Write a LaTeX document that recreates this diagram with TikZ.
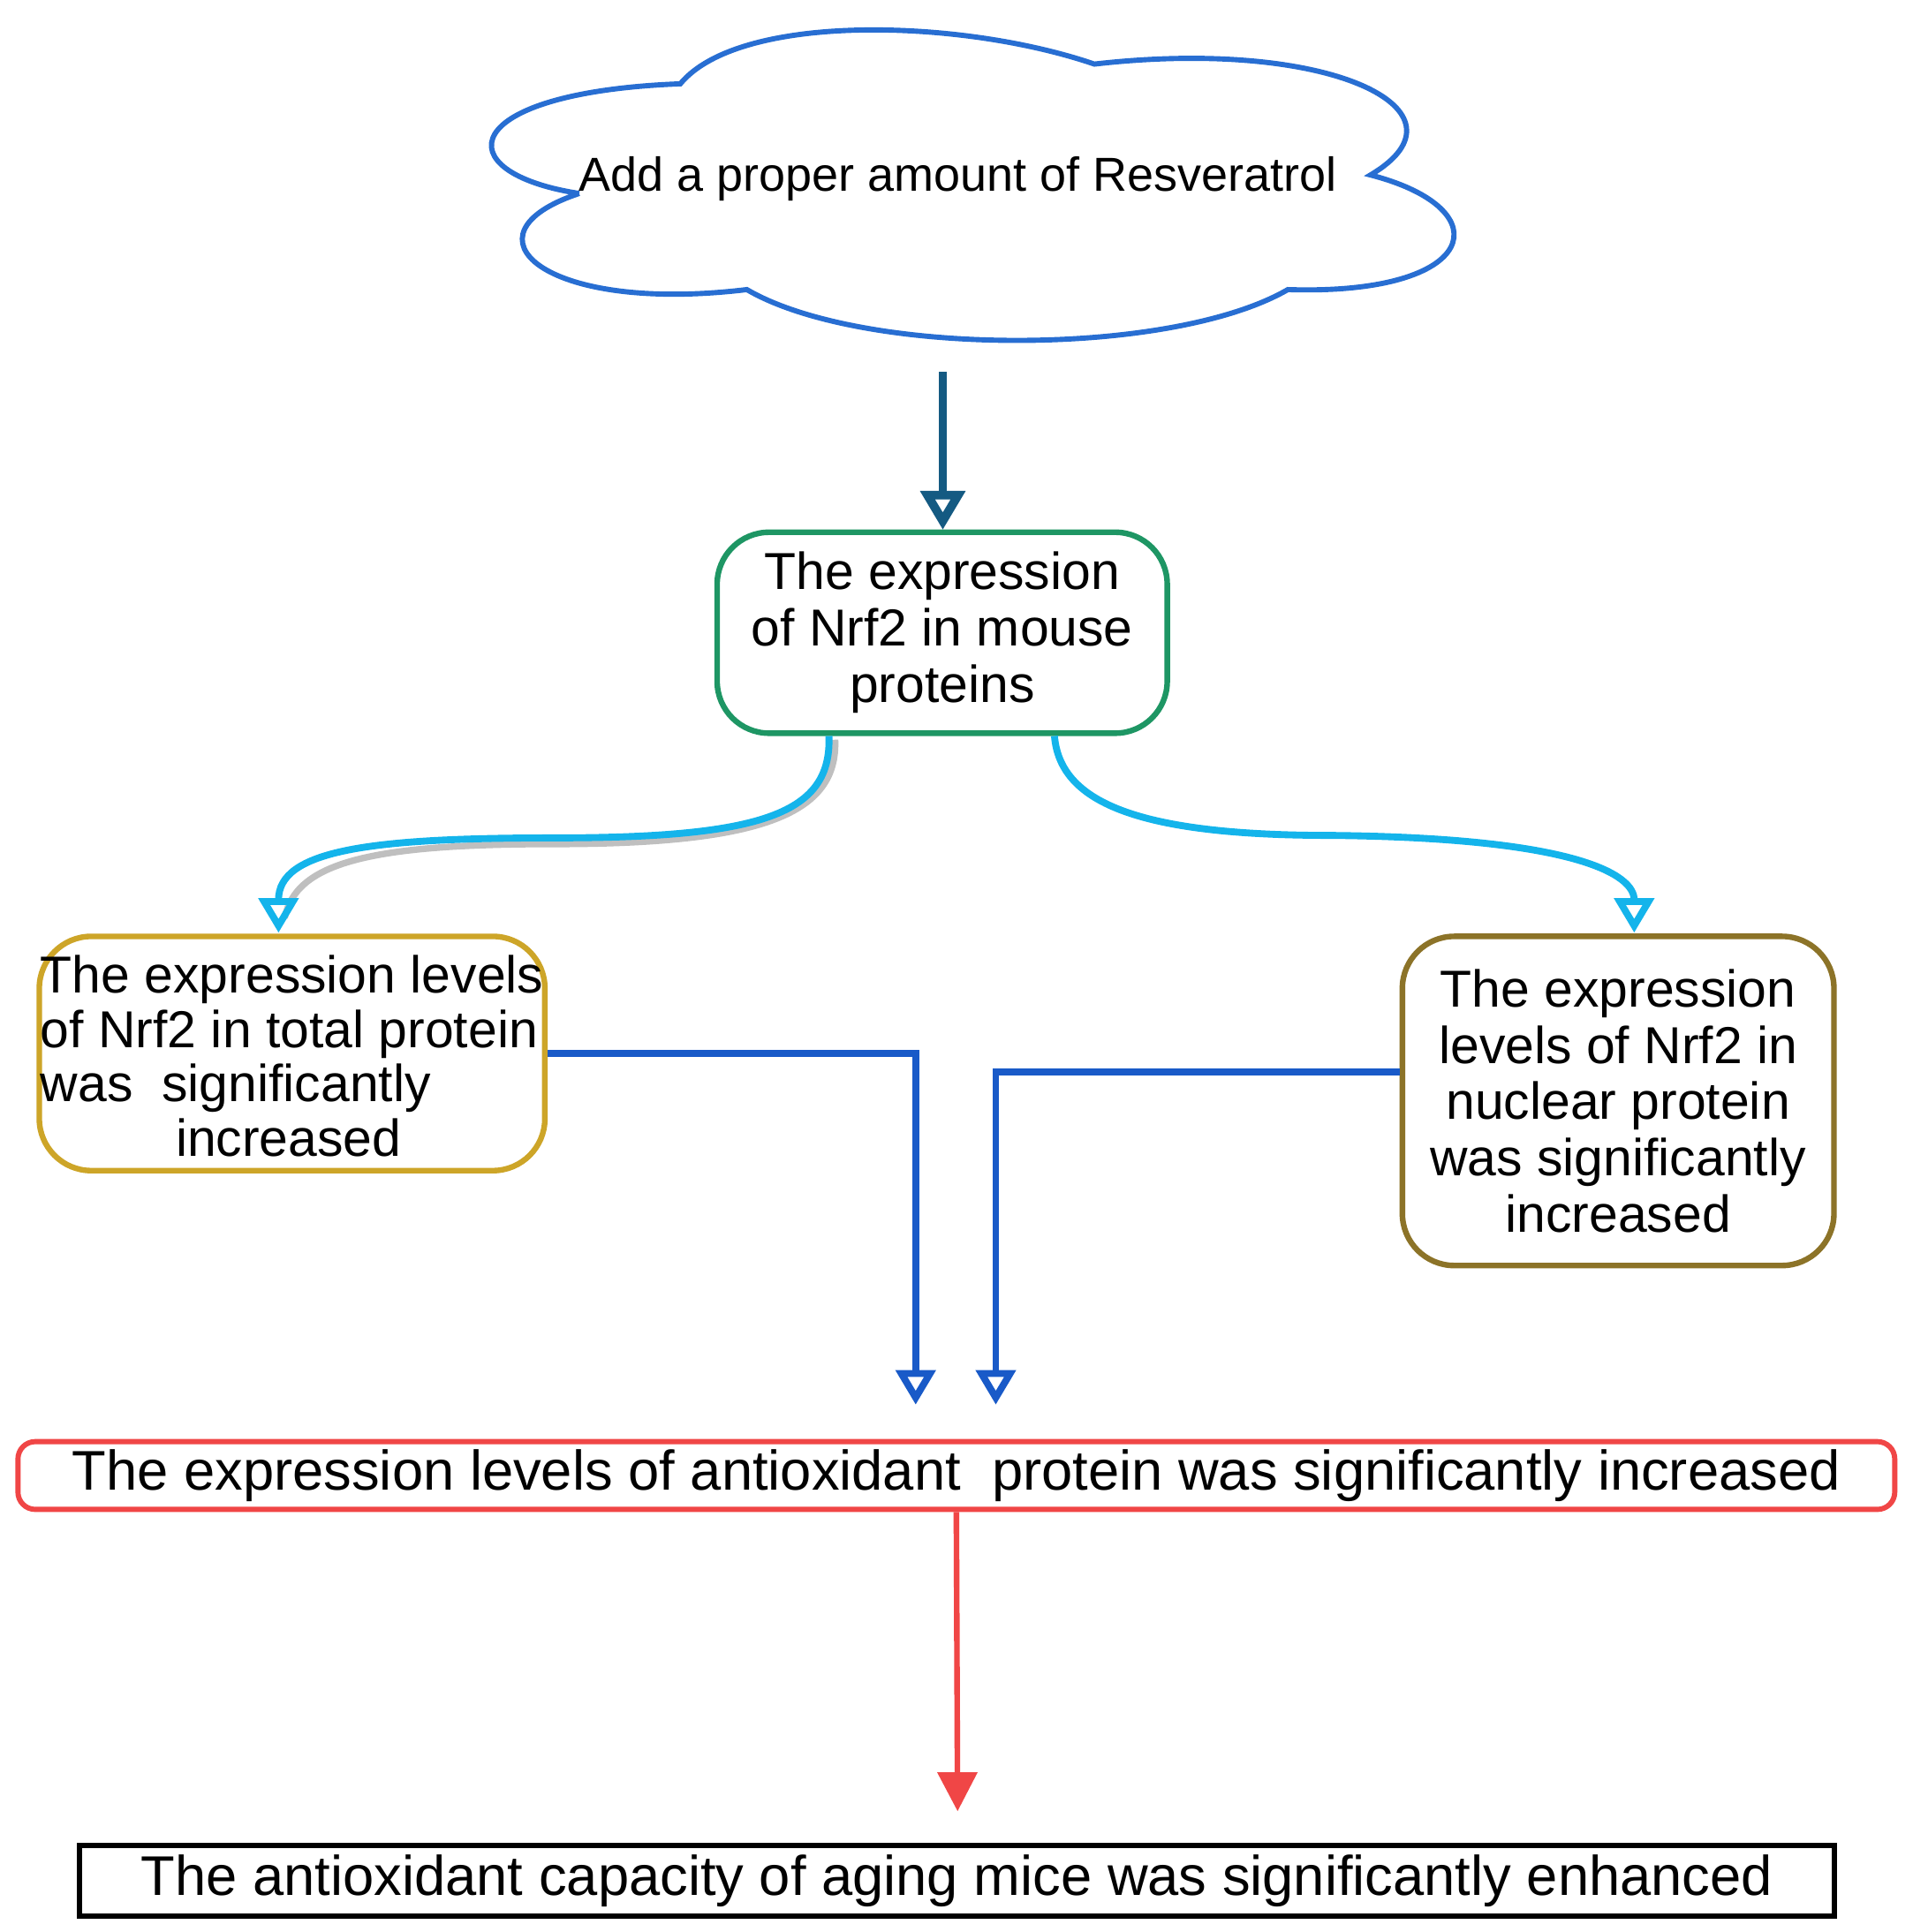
\documentclass[tikz,border=0pt]{standalone}
\usepackage{fontspec}
\setmainfont{Liberation Sans}
\usetikzlibrary{arrows.meta}
\definecolor{cblue}{RGB}{40,110,210}
\definecolor{cteal}{RGB}{20,90,130}
\definecolor{ccyan}{RGB}{20,180,235}
\definecolor{cgreen}{RGB}{30,150,100}
\definecolor{cgold}{RGB}{205,165,40}
\definecolor{cbrown}{RGB}{140,115,40}
\definecolor{cline}{RGB}{25,90,200}
\definecolor{cred}{RGB}{240,70,70}
\begin{document}
\begin{tikzpicture}[x=0.01cm,y=-0.01cm,
 box/.style={draw,line width=1.3pt,rounded corners=12pt,align=center,inner sep=0pt,font=\fontsize{12}{13}\selectfont},
 flat/.style={draw,line width=1.2pt,inner sep=0pt,font=\fontsize{12.9}{15}\selectfont},
 con/.style={line width=1.6pt,-{Triangle[open,length=8pt,width=9pt]}}]
\useasboundingbox (0,0) rectangle (1552,1568);
\draw[cblue,line width=1.2pt] (470,157) .. controls (360,140) and (370,75) .. (552,68)
  .. controls (600,10) and (780,15) .. (888,52)
  .. controls (1080,30) and (1200,90) .. (1112,142)
  .. controls (1220,170) and (1200,240) .. (1045,235)
  .. controls (950,290) and (700,290) .. (606,235)
  .. controls (440,255) and (370,190) .. (470,157);
\node[font=\fontsize{11}{13}\selectfont] (cl) at (777,145) {Add a proper amount of Resveratrol};
\node[box,draw=cgreen,minimum width=3.65cm,minimum height=1.63cm] (n) at (764.5,513.5) {The expression\\of Nrf2 in mouse\\proteins};
\node[box,draw=cgold,minimum width=4.1cm,minimum height=1.9cm] (l) at (237,855) {};
\node[font=\fontsize{12}{12.6}\selectfont,align=left,inner sep=0pt] (lt_txt) at (237,857) {The expression levels\\of Nrf2 in total protein\\was\ \ significantly\\\hspace*{2.6em}increased};
\node[box,draw=cbrown,minimum width=3.5cm,minimum height=2.67cm] (r) at (1313,893.5) {The expression\\levels of Nrf2 in\\nuclear protein\\was significantly\\increased};
\node[flat,draw=cred,rounded corners=4pt,minimum width=15.22cm,minimum height=0.55cm] (red) at (776,1197.5) {The expression levels of antioxidant\ \ protein was significantly increased};
\node[flat,draw=black,minimum width=14.23cm,minimum height=0.57cm] (fin) at (776.5,1526.5) {The antioxidant capacity of aging mice was significantly enhanced};
\coordinate (cb) at (765,302);
\coordinate (lt) at (226,757);
\coordinate (rt) at (1326,757);
\coordinate (lb) at (743,1140);
\coordinate (rb) at (808,1140);
\coordinate (fa) at (777,1470);
\draw[line width=2pt,cteal,-{Triangle[open,length=9pt,width=10pt]}] (cb) -- (765,430);
\draw[gray!50,line width=1.5pt] (n.south west)++(98,3) .. controls (680,660) and (620,685) .. (450,685)
  .. controls (300,685) and (240,700) .. (231,745);
\draw[con,ccyan] (n.south west)++(93,0) .. controls (675,660) and (620,680) .. (450,680)
  .. controls (300,680) and (226,690) .. (lt);
\draw[con,ccyan] (n.south west)++(276,0) .. controls (860,650) and (920,678) .. (1080,678)
  .. controls (1280,680) and (1326,710) .. (rt);
\draw[con,cline] (l.east) -- (743,855) -- (lb);
\draw[con,cline] (r.west|-0,870) -- (808,870) -- (rb);
\draw[line width=1.3pt,cred,-{Triangle[length=9pt,width=9pt]}] (red.south) -- (fa);
\end{tikzpicture}
\end{document}
